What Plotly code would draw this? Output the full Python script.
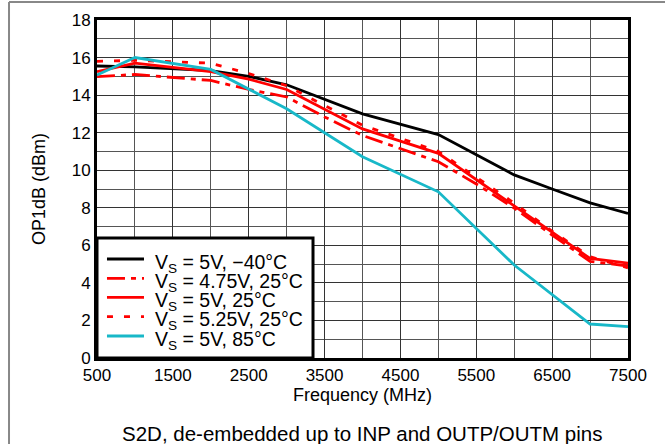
import plotly.graph_objects as go

# ---- data ----
freq_m40 = [500, 1000, 2000, 2500, 3000, 4000, 5000, 6000, 6500, 7000, 7500]
op1db_m40 = [15.55, 15.5, 15.3, 15.0, 14.55, 13.0, 11.9, 9.75, 9.0, 8.26, 7.7]

freq_475 = [500, 1000, 2000, 2500, 3000, 3500, 4000, 4500, 5000, 5500, 6000, 6500, 7000, 7500]
op1db_475 = [14.98, 15.1, 14.78, 14.3, 13.9, 12.84, 11.85, 11.14, 10.45, 9.27, 7.98, 6.55, 5.15, 4.9]

freq_500 = [500, 1000, 2000, 2500, 3000, 4000, 4500, 5000, 6000, 7000, 7500]
op1db_500 = [15.25, 15.7, 15.25, 14.85, 14.3, 12.2, 11.55, 10.9, 8.1, 5.3, 5.05]

freq_525 = [500, 1000, 2000, 2500, 3000, 3500, 4000, 4500, 5000, 6000, 6500, 7000, 7500]
op1db_525 = [15.8, 15.85, 15.7, 15.15, 14.5, 13.45, 12.4, 11.7, 11.0, 8.25, 6.75, 5.4, 4.8]

freq_85 = [500, 1000, 2000, 3000, 4000, 5000, 6000, 7000, 7500]
op1db_85 = [15.07, 16.0, 15.37, 13.27, 10.72, 8.85, 4.95, 1.81, 1.67]

x_ticks = [500, 1500, 2500, 3500, 4500, 5500, 6500, 7500]
y_ticks = [0, 2, 4, 6, 8, 10, 12, 14, 16, 18]

names = [
    "V<sub>S</sub> = 5V, \u221240\u00b0C",
    "V<sub>S</sub> = 4.75V, 25\u00b0C",
    "V<sub>S</sub> = 5V, 25\u00b0C",
    "V<sub>S</sub> = 5.25V, 25\u00b0C",
    "V<sub>S</sub> = 5V, 85\u00b0C",
]

RED = "#FF0000"
CYAN = "#18B8C8"
FONT = "Liberation Sans, Arial, sans-serif"
LW = 2.8

series = [
    (freq_m40, op1db_m40, names[0], "black", "solid"),
    (freq_475, op1db_475, names[1], RED, "18px,6px,5px,6px"),
    (freq_500, op1db_500, names[2], RED, "solid"),
    (freq_525, op1db_525, names[3], RED, "6px,11px"),
    (freq_85, op1db_85, names[4], CYAN, "solid"),
]

fig = go.Figure()
for xs, ys, nm, col, dash in series:
    fig.add_trace(go.Scatter(x=xs, y=ys, name=nm, mode="lines", showlegend=False,
                             line=dict(color=col, width=LW, dash=dash)))

axis_common = dict(showline=True, linecolor="black", linewidth=3, mirror=True,
                   ticks="", showgrid=True, gridcolor="#333333", gridwidth=1,
                   zeroline=False, tickfont=dict(size=17, color="black", family=FONT))

fig.update_xaxes(range=[500, 7500], tickvals=x_ticks,
                 minor=dict(dtick=500, tick0=500, showgrid=True, gridcolor="#555555", gridwidth=1),
                 title=dict(text="Frequency (MHz)", font=dict(size=18, color="black", family=FONT), standoff=2),
                 **axis_common)
fig.update_yaxes(range=[0, 18], tickvals=y_ticks,
                 minor=dict(dtick=1, tick0=0, showgrid=True, gridcolor="#555555", gridwidth=1),
                 title=dict(text="OP1dB (dBm)", font=dict(size=18, color="black", family=FONT), standoff=22),
                 **axis_common)

fig.update_layout(
    width=665, height=444,
    margin=dict(l=97, r=37, t=20, b=86, autoexpand=False),
    paper_bgcolor="white", plot_bgcolor="white",
    font=dict(family=FONT, color="black", size=17),
    showlegend=False,
)

# outer frame (gray) partially visible at left and top
fig.add_shape(type="line", xref="paper", yref="paper", x0=-0.1657, x1=-0.1657, y0=-0.5, y1=1.0533,
              line=dict(color="#888888", width=2))
fig.add_shape(type="line", xref="paper", yref="paper", x0=-0.1657, x1=1.2, y0=1.0533, y1=1.0533,
              line=dict(color="#888888", width=2))

# legend box (lower-left inside the plot)
fig.add_shape(type="rect", xref="paper", yref="paper", x0=0, x1=0.4068, y0=0, y1=0.355,
              fillcolor="white", line=dict(color="black", width=3), layer="above")
row_y = [0.2929, 0.2358, 0.1796, 0.1222, 0.0651]
for (xs, ys, nm, col, dash), ry in zip(series, row_y):
    fig.add_shape(type="line", xref="paper", yref="paper", x0=0.0188, x1=0.0885, y0=ry, y1=ry,
                  line=dict(color=col, width=LW, dash=dash), layer="above")
    fig.add_annotation(text=nm, xref="paper", yref="paper", x=0.1055, y=ry - 0.012,
                       xanchor="left", yanchor="middle", showarrow=False,
                       font=dict(size=19.5, family=FONT, color="black"))

fig.add_annotation(text="S2D, de-embedded up to INP and OUTP/OUTM pins",
                   xref="paper", yref="paper", x=0.499, y=-0.2219, showarrow=False,
                   xanchor="center", yanchor="middle",
                   font=dict(size=20.5, family=FONT, color="black"))

fig.write_html("out.html", config={"displayModeBar": False},
               post_script="document.body.style.margin='0px';document.body.style.overflow='hidden';")
